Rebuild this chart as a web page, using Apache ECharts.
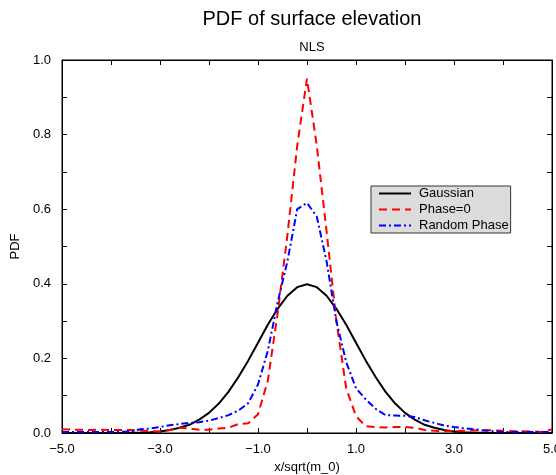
<!DOCTYPE html>
<html>
<head>
<meta charset="utf-8">
<script src="https://cdn.jsdelivr.net/npm/echarts@6/dist/echarts.min.js"></script>
<style>
html,body{margin:0;padding:0;background:#fff;}
#chart{width:556px;height:475px;}
</style>
</head>
<body>
<div id="chart"></div>
<script>
// x positions (x/sqrt(m_0))
var xs = [-5.0,-4.8,-4.6,-4.4,-4.2,-4.0,-3.8,-3.6,-3.4,-3.2,-3.0,-2.8,-2.6,-2.4,-2.2,-2.0,-1.8,-1.6,-1.4,-1.2,-1.0,-0.8,-0.6,-0.4,-0.2,0.0,
          0.2,0.4,0.6,0.8,1.0,1.2,1.4,1.6,1.8,2.0,2.2,2.4,2.6,2.8,3.0,3.2,3.4,3.6,3.8,4.0,4.2,4.4,4.6,4.8,5.0];
var gaussian = [0.000,0.000,0.000,0.000,0.000,0.000,0.000,0.001,0.001,0.002,0.004,0.008,0.014,0.022,0.036,0.054,0.079,0.111,0.150,0.194,0.242,0.290,0.333,0.368,0.391,0.399,
          0.391,0.368,0.333,0.290,0.242,0.194,0.150,0.111,0.079,0.054,0.036,0.022,0.014,0.008,0.004,0.002,0.001,0.001,0.000,0.000,0.000,0.000,0.000,0.000,0.000];
var phase0 = [0.010,0.009,0.009,0.008,0.009,0.008,0.008,0.008,0.007,0.005,0.004,0.008,0.014,0.012,0.009,0.009,0.012,0.014,0.024,0.026,0.050,0.140,0.320,0.530,0.770,0.950,
          0.770,0.540,0.300,0.120,0.045,0.018,0.016,0.015,0.016,0.016,0.014,0.008,0.006,0.005,0.005,0.006,0.007,0.008,0.007,0.006,0.005,0.005,0.004,0.003,0.010];
var randomPhase = [0.003,0.003,0.003,0.003,0.003,0.003,0.003,0.004,0.010,0.012,0.016,0.021,0.024,0.027,0.029,0.033,0.040,0.048,0.060,0.080,0.130,0.220,0.350,0.460,0.600,0.617,
          0.580,0.460,0.300,0.190,0.120,0.090,0.065,0.048,0.047,0.046,0.043,0.034,0.027,0.020,0.016,0.013,0.010,0.007,0.005,0.003,0.003,0.003,0.003,0.003,0.003];
var seriesNames = ['Gaussian','Phase=0','Random Phase'];

function pairs(ys){ return xs.map(function(x,i){ return [x, ys[i]]; }); }

var FONT = 'Liberation Sans, Arial, Helvetica, sans-serif';
var chart = echarts.init(document.getElementById('chart'), null, {renderer:'canvas'});

function xLabel(v){
  var r = Math.round(v);
  if (Math.abs(r) % 2 !== 1) return '';
  return (r < 0 ? '\u2212' : '') + Math.abs(r).toFixed(1);
}
function yLabel(v){
  var k = Math.round(v*10);
  if (k % 2 !== 0) return '';
  return (k/10).toFixed(1);
}

var option = {
  animation:false,
  backgroundColor:'#fff',
  title:[
    {text:'PDF of surface elevation', left:307, top:4, textAlign:'center',
     textStyle:{fontFamily:FONT, fontSize:20, fontWeight:'normal', color:'#000'}},
    {text:'NLS', left:307, top:36, textAlign:'center',
     textStyle:{fontFamily:FONT, fontSize:13, fontWeight:'normal', color:'#000'}}
  ],
  grid:{left:62, right:4, top:60, bottom:42, containLabel:false, outerBoundsMode:'none',
        show:true, borderColor:'#000', borderWidth:1, backgroundColor:'transparent'},
  legend:{
    orient:'vertical', left:371, top:186,
    backgroundColor:'#dcdcdc', borderColor:'#333', borderWidth:1,
    padding:[1,2,1,7], itemGap:3, itemWidth:32, itemHeight:14,
    itemStyle:{color:'transparent', borderColor:'transparent', borderWidth:0, opacity:0},
    textStyle:{fontFamily:FONT, fontSize:13, color:'#000', padding:[0,0,0,3]},
    data:seriesNames
  },
  xAxis:[
    {type:'value', min:-5, max:5, interval:1, position:'bottom',
     name:'x/sqrt(m_0)', nameLocation:'middle', nameGap:28,
     nameTextStyle:{fontFamily:FONT, fontSize:13, color:'#000'},
     axisLine:{show:true, onZero:false, lineStyle:{color:'#000', width:1}},
     axisTick:{show:true, inside:true, length:5, lineStyle:{color:'#000'}},
     axisLabel:{formatter:xLabel, fontFamily:FONT, fontSize:13, color:'#000', margin:10, showMinLabel:true, showMaxLabel:true},
     splitLine:{show:false}},
    {type:'value', min:-5, max:5, interval:1, position:'top',
     axisLine:{show:true, onZero:false, lineStyle:{color:'#000', width:1}},
     axisTick:{show:true, inside:true, length:5, lineStyle:{color:'#000'}},
     axisLabel:{show:false}, splitLine:{show:false}}
  ],
  yAxis:[
    {type:'value', min:0, max:1, interval:0.1, position:'left',
     name:'PDF', nameLocation:'middle', nameGap:31, nameRotate:90,
     nameTextStyle:{fontFamily:FONT, fontSize:13, color:'#000'},
     axisLine:{show:true, onZero:false, lineStyle:{color:'#000', width:1}},
     axisTick:{show:true, inside:true, length:5, lineStyle:{color:'#000'}},
     axisLabel:{formatter:yLabel, fontFamily:FONT, fontSize:13, color:'#000', margin:11},
     splitLine:{show:false}},
    {type:'value', min:0, max:1, interval:0.1, position:'right',
     axisLine:{show:true, onZero:false, lineStyle:{color:'#000', width:1}},
     axisTick:{show:true, inside:true, length:5, lineStyle:{color:'#000'}},
     axisLabel:{show:false}, splitLine:{show:false}}
  ],
  series:[
    {name:seriesNames[0], type:'line', data:pairs(gaussian), showSymbol:false, symbol:'none', smooth:false,
     itemStyle:{color:'#000'}, lineStyle:{color:'#000', width:2, type:'solid'}},
    {name:seriesNames[1], type:'line', data:pairs(phase0), showSymbol:false, symbol:'none',
     itemStyle:{color:'#ff0000'}, lineStyle:{color:'#ff0000', width:2, type:[8,5]}},
    {name:seriesNames[2], type:'line', data:pairs(randomPhase), showSymbol:false, symbol:'none',
     itemStyle:{color:'#0000ff'}, lineStyle:{color:'#0000ff', width:2, type:[7,3,2,3]}}
  ]
};
chart.setOption(option);
</script>
</body>
</html>
